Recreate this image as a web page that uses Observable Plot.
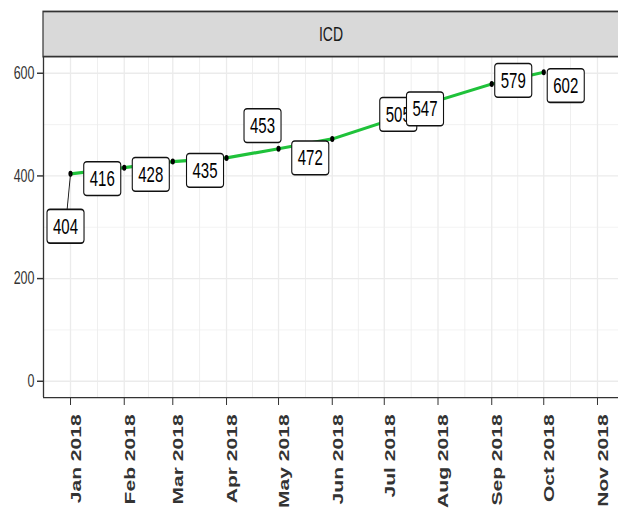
<!DOCTYPE html>
<html>
<head>
<meta charset="utf-8">
<script src="https://cdn.jsdelivr.net/npm/d3@7"></script>
<script src="https://cdn.jsdelivr.net/npm/@observablehq/plot@0.6"></script>
<style>
  html, body { margin: 0; padding: 0; background: #fff; }
  #chart svg { display: block; }
</style>
</head>
<body>
<div id="chart"></div>
<script>
// ---- data ----
const months = ["2018-01-01","2018-02-01","2018-03-01","2018-04-01","2018-05-01",
                "2018-06-01","2018-07-01","2018-08-01","2018-09-01","2018-10-01"];
const counts = [404, 416, 428, 435, 453, 472, 505, 547, 579, 602];
const facetLabel = "ICD";
const xTickMonths = ["2018-01-01","2018-02-01","2018-03-01","2018-04-01","2018-05-01","2018-06-01",
                     "2018-07-01","2018-08-01","2018-09-01","2018-10-01","2018-11-01"];
const yTicks = [0, 200, 400, 600];
const yMinorTicks = [100, 300, 500];

// ---- layout (label repel offsets, in drawing units) ----
const labelNudge = [[-5, 36.5], [-22, 7.9], [-22, 9.3], [-21.5, 9], [-16, -15.5],
                    [-22, 13.4], [14, -4.8], [-13, 6.2], [21.5, -2.1], [22, 9.6]];
const W = 618, H = 350, H_PX = 508;
const STRETCH = H_PX / H;
const FONT = "'Liberation Sans', Arial, Helvetica, sans-serif";

const data = months.map((m, i) => ({date: new Date(m), value: counts[i], label: String(counts[i])}));
const majorX = xTickMonths.map(d => new Date(d));
const allMonths = d3.utcMonth.range(new Date("2017-12-01"), new Date("2019-01-02"));
const minorX = d3.pairs(allMonths).map(([a, b]) => new Date((+a + +b) / 2));

const x0 = new Date(Date.UTC(2017, 11, 16, 10));
const x1 = new Date(Date.UTC(2018, 10, 13, 3));
const y0 = -32, y1 = 631;
const xDomainMinor = minorX.filter(d => d > x0 && d < x1);

const labelMarks = data.map((d, i) => Plot.text([d], {
  x: "date", y: "value", text: "label",
  dx: labelNudge[i][0], dy: labelNudge[i][1],
  fontSize: 15, fill: "#000"
}));

const chart = Plot.plot({
  width: W, height: H,
  marginTop: 39, marginBottom: 76.5, marginLeft: 43, marginRight: 0,
  style: {fontFamily: FONT, background: "#fff", overflow: "visible"},
  x: {type: "utc", domain: [x0, x1]},
  y: {domain: [y0, y1]},
  marks: [
    Plot.ruleX(xDomainMinor, {stroke: "#EBEBEB", strokeWidth: 0.8}),
    Plot.ruleX(majorX, {stroke: "#EBEBEB", strokeWidth: 1.3}),
    Plot.ruleY(yMinorTicks, {stroke: "#EBEBEB", strokeWidth: 0.55}),
    Plot.ruleY(yTicks, {stroke: "#EBEBEB", strokeWidth: 0.9}),
    Plot.ruleX([x0], {stroke: "#333", strokeWidth: 1.3}),
    Plot.ruleY([y0], {stroke: "#333", strokeWidth: 0.9}),
    Plot.axisY({ticks: yTicks, tickSize: 6, tickPadding: 3, fontSize: 12.5, color: "#333", label: null}),
    Plot.axisX({ticks: majorX, tickFormat: d3.utcFormat("%b %Y"), tickRotate: -90, tickSize: 5.5,
                tickPadding: 6, fontSize: 14.5, fontWeight: "bold", lineAnchor: "top",
                textAnchor: "end", label: null, color: "#333"}),
    Plot.line(data, {x: "date", y: "value", stroke: "#1FC23A", strokeWidth: 2.2}),
    Plot.dot(data, {x: "date", y: "value", r: 2.1, fill: "#000", stroke: "none"}),
    ...labelMarks
  ]
});

document.getElementById("chart").append(chart);

// stretch vertically like the reference picture
chart.setAttribute("height", H_PX);
chart.setAttribute("width", W);
chart.setAttribute("viewBox", `0 0 ${W} ${H}`);
chart.setAttribute("preserveAspectRatio", "none");
chart.style.width = W + "px";
chart.style.height = H_PX + "px";
chart.style.maxWidth = "none";

// label boxes (ggrepel-like) + segments
const NS = "http://www.w3.org/2000/svg";
const xs = chart.scale("x"), ys = chart.scale("y");
const groups = Array.from(chart.querySelectorAll('g[aria-label="text"]'));
groups.forEach((g, i) => {
  const t = g.querySelector("text");
  if (!t || i >= data.length) return;
  const bb = t.getBBox();
  let ox = 0, oy = 0;
  const tl = t.transform && t.transform.baseVal;
  if (tl && tl.numberOfItems) { const m = tl.consolidate().matrix; ox = m.e; oy = m.f; }
  const padX = 6, padY = 3.2;
  const bx = bb.x + ox - padX, by = bb.y + oy - padY;
  const bw = bb.width + 2 * padX, bh = bb.height + 2 * padY;
  const cx = bx + bw / 2, cy = by + bh / 2;
  // data point in the local coords of this group (group is shifted by dx, dy)
  const px = xs.apply(data[i].date) - labelNudge[i][0];
  const py = ys.apply(data[i].value) - labelNudge[i][1];
  const ux = px - cx, uy = py - cy;
  const s = 1 / Math.max(Math.abs(ux) / (bw / 2), Math.abs(uy) / (bh / 2));
  if (s < 1) {
    const ex = cx + ux * s, ey = cy + uy * s;
    const len = Math.hypot((px - ex), (py - ey) * STRETCH);
    if (len > 12) {
      const ln = document.createElementNS(NS, "line");
      ln.setAttribute("x1", px); ln.setAttribute("y1", py);
      ln.setAttribute("x2", ex); ln.setAttribute("y2", ey);
      ln.setAttribute("stroke", "#111"); ln.setAttribute("stroke-width", 0.9);
      g.insertBefore(ln, t);
    }
  }
  const r = document.createElementNS(NS, "rect");
  r.setAttribute("x", bx); r.setAttribute("y", by);
  r.setAttribute("width", bw); r.setAttribute("height", bh);
  r.setAttribute("rx", 3); r.setAttribute("ry", 3 / STRETCH);
  r.setAttribute("fill", "#fff"); r.setAttribute("stroke", "#111"); r.setAttribute("stroke-width", 1.1);
  g.insertBefore(r, t);
});

// facet strip
const strip = d3.select(chart).append("g").attr("aria-label", "facet-strip");
strip.append("rect").attr("x", 43).attr("y", 7.9).attr("width", 590).attr("height", 31.1)
  .attr("fill", "#D9D9D9").attr("stroke", "#333").attr("stroke-width", 1.2);
strip.append("text").attr("x", 331).attr("y", 23.3).attr("text-anchor", "middle")
  .attr("dominant-baseline", "central").attr("font-size", 14).attr("fill", "#1A1A1A")
  .attr("font-family", FONT).text(facetLabel);
</script>
</body>
</html>
